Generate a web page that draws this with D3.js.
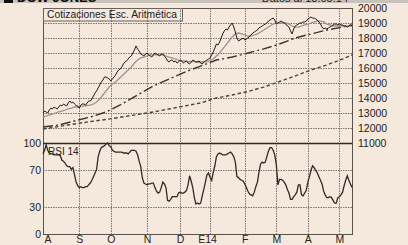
<!DOCTYPE html>
<html><head><meta charset="utf-8">
<script src="https://cdn.jsdelivr.net/npm/d3@7"></script>
<style>html,body{margin:0;padding:0;background:#f4e9dc;}svg{display:block;}</style>
</head><body>
<svg id="c" width="408" height="245"></svg>
<script>
// ---- data ----
const monthStarts = [0,23,43,66,87,106,128,148,168,188];
const monthLabels = ["A","S","O","N","D","E14","F","M","A","M"];
const priceTicks = [11000,12000,13000,14000,15000,16000,17000,18000,19000,20000];
const rsiTicks = [0,30,70,100];
// closing prices, one per session
const price = [13000,13130,13070,13000,13200,13330,13270,13400,13330,13270,
13400,13530,13470,13600,13530,13470,13670,13800,13670,13730,
13600,13500,13470,13330,13530,13600,13600,13530,13670,13800,
13800,13930,14130,14330,14470,14670,14870,15070,15200,15400,
15400,15330,15270,15130,15270,15400,15530,15730,15870,15930,
16070,16270,16400,16470,16600,16730,16800,17000,17200,17470,
17270,17130,16930,16870,16800,16930,17000,16870,16800,16730,
16870,17000,16930,16870,16800,16930,16930,16800,16670,16470,
16400,16530,16530,16400,16470,16330,16400,16530,16470,16330,
16400,16470,16330,16270,16400,16530,16470,16400,16400,16470,
16330,16270,16400,16470,16530,16600,16670,16870,17070,17330,
17600,17530,17730,18000,18270,18470,18600,18530,18730,18870,
19000,18730,18400,18000,17800,17870,17930,18000,17870,17930,
18000,18130,18200,18330,18400,18470,18530,18670,18730,18800,
18870,18930,19000,19130,19200,19270,19330,19200,18930,19000,
19070,19130,19070,19000,18930,18800,18730,18470,18270,18600,
18800,18870,18930,19000,19000,19070,19070,19130,19270,19330,
19400,19330,19330,19270,19200,19070,18930,18730,18600,18670,
18600,18670,18730,18800,18870,18930,18930,18870,18930,18870,
18870,18800,18800,18730,18800,18870,18800];
// short moving average (grey), every 2 sessions
const maShort = [12730,12800,12870,12930,13000,13070,13130,13200,13270,13330,
13400,13400,13430,13470,13500,13530,13600,13730,13930,14200,
14470,14730,14930,15070,15270,15470,15670,15870,16070,16330,
16530,16670,16730,16800,16870,16870,16870,16870,16870,16800,
16730,16670,16600,16530,16470,16470,16430,16430,16430,16400,
16400,16400,16430,16500,16600,16800,17000,17270,17530,17800,
18070,18270,18330,18270,18200,18130,18130,18200,18270,18400,
18530,18670,18800,18930,19000,19000,19000,19000,18930,18800,
18730,18730,18800,18870,18930,19000,19070,19130,19130,19070,
18930,18870,18800,18800,18800,18800,18800,18800,18800];
// long moving averages, every 10 sessions
const maSessions = [0,10,20,30,40,50,60,70,80,90,100,110,120,130,140,150,160,170,180,190,196];
const maMid = [12070,12200,12470,12730,13070,13600,14200,14800,15270,15730,16130,16530,16730,17000,17270,17600,18000,18270,18530,18730,18870];
const maLong = [11930,12100,12270,12430,12570,12730,12900,13070,13270,13470,13670,14000,14200,14430,14730,15100,15470,15870,16200,16600,16870];
// RSI 14, one value per session
const rsi = [88,92,98,92,89,88,88,87,87,87,87,86,81,80,78,75,74,74,71,73,
65,57,53,51,52,51,51,52,52,54,56,59,63,67,71,85,91,95,96,97,
99,100,97,96,92,91,90,90,90,90,90,89,89,89,88,90,92,92,92,91,
87,80,74,62,56,55,54,55,55,56,56,51,47,45,46,51,57,55,51,37,
36,38,41,41,41,41,45,46,45,45,46,48,54,64,58,51,40,33,34,33,
34,42,49,57,65,67,62,59,68,75,85,88,89,88,87,87,87,88,89,90,
88,85,79,63,62,60,59,58,55,51,47,44,43,42,46,52,57,68,77,79,
78,79,85,91,95,95,92,87,76,54,60,60,59,57,54,49,45,38,38,41,
43,46,54,54,43,42,45,48,57,63,70,75,73,70,67,63,59,55,47,43,
40,40,41,40,37,34,34,40,41,43,46,53,59,64,59,55,51];

// ---- layout ----
const L = 43, R = 352, T = 8, MB = 143, RB = 234;
const svg = d3.select("#c");
const font = "'Liberation Sans', Arial, Helvetica, sans-serif";
const x = d3.scaleLinear().domain([0,196]).range([L,R]);
const y = d3.scaleLinear().domain([11000,20000]).range([MB,T]);
const yr = d3.scaleLinear().domain([0,100]).range([RB,MB]);

// top cropped header strip
svg.append("rect").attr("x",0).attr("y",0).attr("width",408).attr("height",3).attr("fill","#c9c2ba");
svg.append("rect").attr("x",4).attr("y",-6).attr("width",9).attr("height",9).attr("fill","#111");
svg.append("text").attr("x",17).attr("y",2).attr("font-family",font).attr("font-weight","bold")
  .attr("font-size",13).attr("fill","#111").text("DOW JONES");
svg.append("text").attr("x",348).attr("y",2).attr("text-anchor","end").attr("font-family",font)
  .attr("font-size",11).attr("fill","#222").text("Datos al 13.05.14");

const gridStyle = s => s.attr("stroke","#7d746b").attr("stroke-width",1).attr("stroke-dasharray","1.5,1").attr("fill","none");

// grids
const g = svg.append("g");
g.selectAll("line.hm").data(priceTicks.slice(1,-1)).join("line")
  .attr("x1",L).attr("x2",R).attr("y1",d=>Math.round(y(d))+0.5).attr("y2",d=>Math.round(y(d))+0.5).call(gridStyle);
g.selectAll("line.vm").data(monthStarts.slice(1)).join("line")
  .attr("x1",d=>Math.round(x(d))+0.5).attr("x2",d=>Math.round(x(d))+0.5).attr("y1",T).attr("y2",RB).call(gridStyle);
g.selectAll("line.hr").data([30,70]).join("line")
  .attr("x1",L).attr("x2",R).attr("y1",d=>Math.round(yr(d))+0.5).attr("y2",d=>Math.round(yr(d))+0.5).call(gridStyle);

// borders
svg.append("rect").attr("x",L+0.5).attr("y",T+0.5).attr("width",R-L).attr("height",RB-T)
  .attr("fill","none").attr("stroke","#5a534d").attr("stroke-width",1);
svg.append("line").attr("x1",L).attr("x2",R).attr("y1",MB+0.5).attr("y2",MB+0.5).attr("stroke","#2e2a27").attr("stroke-width",1.6);

// header box
svg.append("rect").attr("x",L+0.5).attr("y",T+0.5).attr("width",139).attr("height",12.5)
  .attr("fill","none").attr("stroke","#6a625b").attr("stroke-width",1);
svg.append("text").attr("x",47).attr("y",18).attr("font-family",font).attr("font-size",10.3).attr("fill","#222")
  .text("Cotizaciones Esc. Aritmética");

// moving averages
const lineMa = d3.line().x((d,i)=>x(maSessions[i])).y(d=>y(d));
const lineShort = d3.line().x((d,i)=>x(i*2)).y(d=>y(d));
const linePrice = d3.line().x((d,i)=>x(i)).y(d=>y(d));
svg.append("path").datum(maLong).attr("d",lineMa).attr("fill","none").attr("stroke","#4a4440").attr("stroke-width",1.4).attr("stroke-dasharray","3.5,2.5");
svg.append("path").datum(maMid).attr("d",lineMa).attr("fill","none").attr("stroke","#3a3532").attr("stroke-width",1.4).attr("stroke-dasharray","10,3,2,3");
svg.append("path").datum(maShort).attr("d",lineShort).attr("fill","none").attr("stroke","#9a938c").attr("stroke-width",1.3);
svg.append("path").datum(price).attr("d",linePrice).attr("fill","none").attr("stroke","#1e1b19").attr("stroke-width",1);

// RSI
const lineR = d3.line().x((d,i)=>x(i)).y(d=>yr(d));
svg.append("path").datum(rsi).attr("d",lineR).attr("fill","none").attr("stroke","#2e2a27").attr("stroke-width",1.3);
svg.append("text").attr("x",48).attr("y",155).attr("font-family",font).attr("font-size",10).attr("fill","#222").text("RSI 14");

// right axis
const ax = d3.axisRight(y).tickValues(priceTicks).tickSize(0).tickPadding(6).tickFormat(d3.format("d"));
const axg = svg.append("g").attr("transform",`translate(${R},0)`).call(ax);
axg.select(".domain").remove();
axg.selectAll("text").attr("font-family",font).attr("font-size",10.5).attr("fill","#222");

// rsi axis
const axr = d3.axisLeft(yr).tickValues(rsiTicks).tickSize(0).tickPadding(2);
const arg = svg.append("g").attr("transform",`translate(${L},0)`).call(axr);
arg.select(".domain").remove();
arg.selectAll("text").attr("font-family",font).attr("font-size",10.5).attr("fill","#222");

// month axis
const axm = d3.axisBottom(x).tickValues(monthStarts).tickSize(0).tickPadding(2)
  .tickFormat((d,i)=>monthLabels[i]);
const amg = svg.append("g").attr("transform",`translate(0,${RB})`).call(axm);
amg.select(".domain").remove();
amg.selectAll("text").attr("font-family",font).attr("font-size",10.5).attr("fill","#222")
  .attr("dx",(d,i)=> i===0 ? 4.5 : (i===5 ? -3 : 0));
</script>
</body></html>
